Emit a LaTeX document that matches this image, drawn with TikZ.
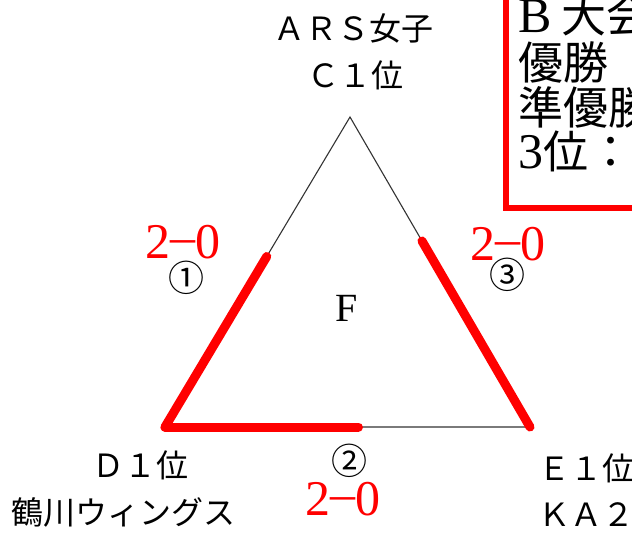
\documentclass[tikz,border=0pt]{standalone}
\usepackage{fontspec}
\usetikzlibrary{calc}
\setmainfont{Liberation Serif}
\newfontfamily\cjk{Noto Sans CJK JP}
\newcommand\scoredash{\raisebox{5pt}{–}}
\tikzset{
  edgeline/.style={line width=1.1pt,black!80},
  winline/.style={line width=9pt,red,line cap=round},
  score/.style={red,font=\fontsize{50}{50}\selectfont},
  gamenum/.style={font=\cjk\fontsize{36}{36}\selectfont},
  team/.style={font=\cjk\fontsize{32}{32}\selectfont},
  boxline/.style={anchor=base west,inner sep=0pt,font=\cjk\fontsize{45}{45}\selectfont}
}
\begin{document}
\begin{tikzpicture}[x=1pt,y=-1pt]

      \clip (0,0) rectangle (632,535);
      \fill[white] (0,0) rectangle (632,535);

      % triangle corners
      \coordinate (a) at (350,117);
      \coordinate (d) at (165,427);
      \coordinate (e) at (530,427);
      \coordinate (ad) at ($(d)!0.55!(a)$);
      \coordinate (ae) at ($(e)!0.6!(a)$);
      \coordinate (de) at ($(d)!0.53!(e)$);

      \draw[edgeline] (a) -- (d) -- (e) -- cycle;
      \draw[winline] (d) -- (ad);
      \draw[winline] (e) -- (ae);
      \draw[winline] (d) -- (de);

      \node[font=\fontsize{40}{40}\selectfont] (f) at (347,308) {F};

      \begin{scope}[every node/.style={team}]
        \node (a1) at (353,28) {ＡＲＳ女子};
        \node (a2) at (355,75) {Ｃ１位};
        \node (d1) at (140,465) {Ｄ１位};
        \node (d2) at (124,512) {鶴川ウィングス};
        \node[anchor=west] (e1) at (535,468) {Ｅ１位};
        \node[anchor=west] (e2) at (535,515) {ＫＡ２};
      \end{scope}

      \begin{scope}[every node/.style={score}]
        \node (s1) at (183,242) {2\scoredash0};
        \node (s3) at (508,244) {2\scoredash0};
        \node (s2) at (343,499) {2\scoredash0};
      \end{scope}

      \begin{scope}[every node/.style={gamenum}]
        \node (g1) at (186,278) {①};
        \node (g2) at (349,461) {②};
        \node (g3) at (507,275) {③};
      \end{scope}

      % results box
      \draw[red,line width=6pt] (506,-20) rectangle (680,208);
      \node[boxline] (b1) at (518,33) {{\rmfamily\fontsize{50}{50}\selectfont B} 大会};
      \node[boxline] (b2) at (518,79) {優勝};
      \node[boxline] (b3) at (518,124) {準優勝};
      \node[boxline] (b4) at (518,168) {{\rmfamily\fontsize{50}{50}\selectfont 3}位：};

    \end{tikzpicture}
\end{document}
